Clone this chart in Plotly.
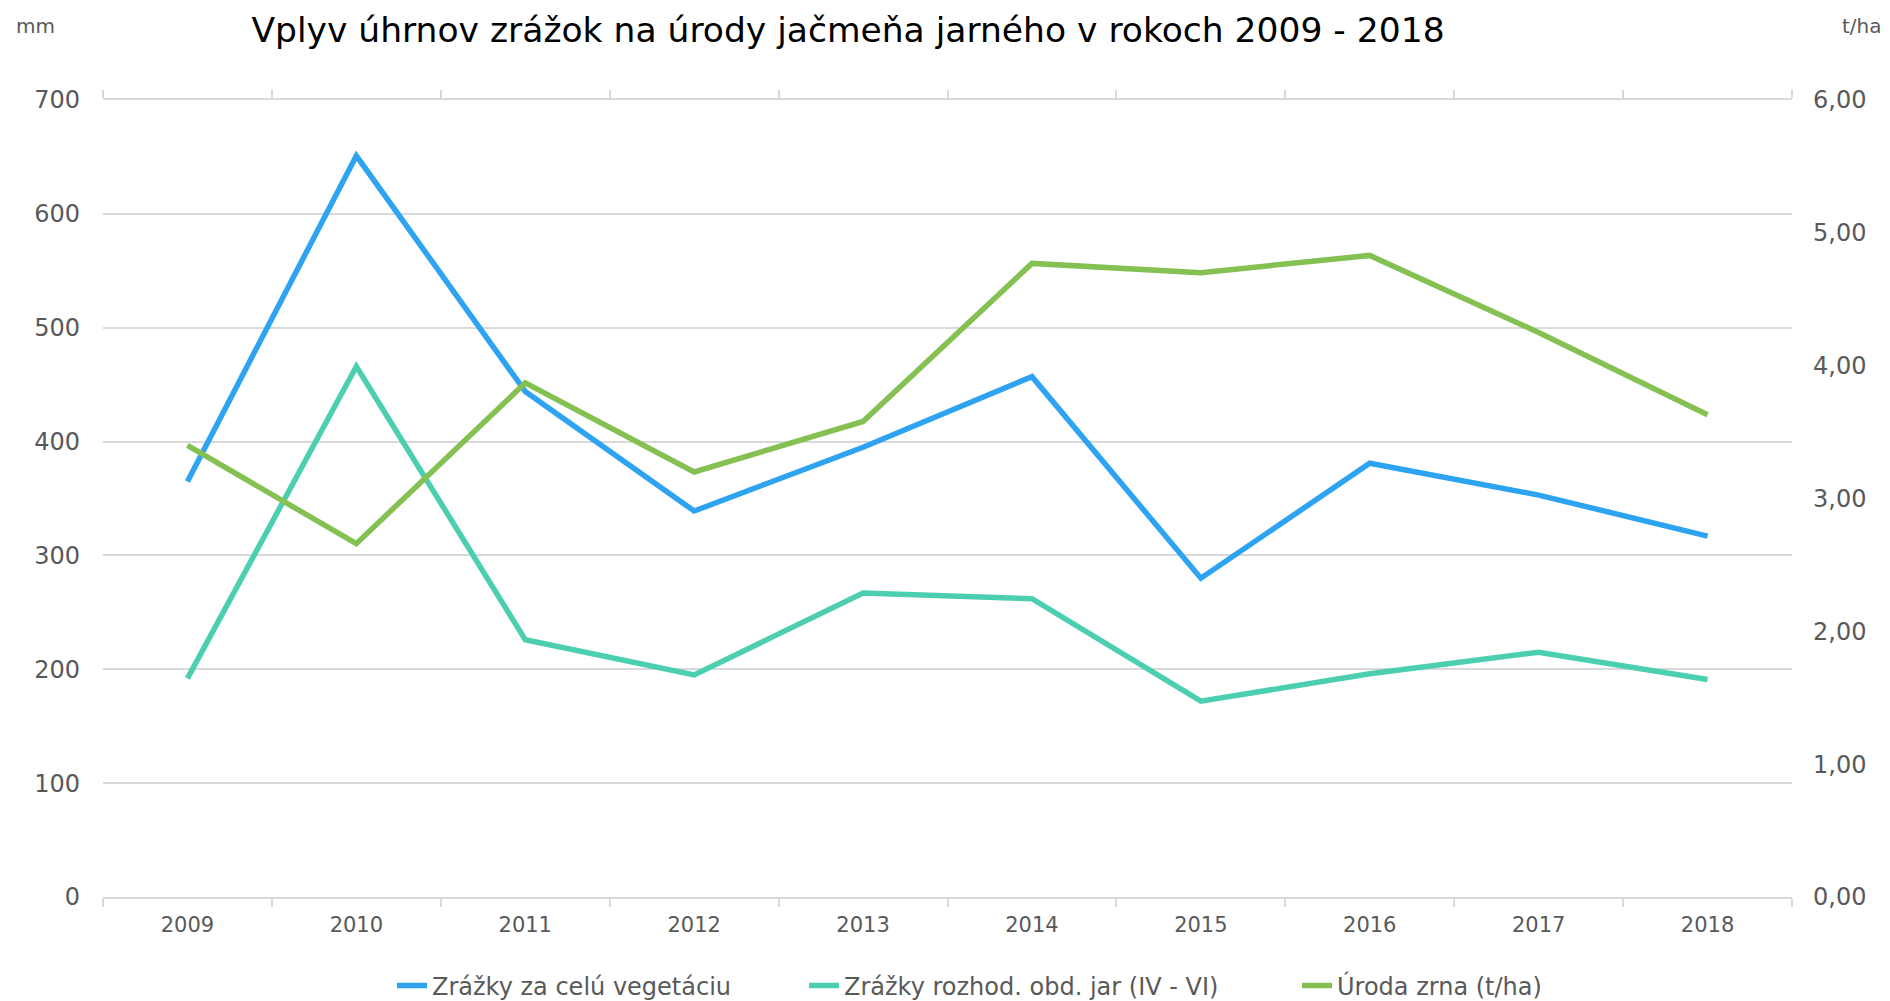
import plotly.graph_objects as go

years = ["2009", "2010", "2011", "2012", "2013", "2014", "2015", "2016", "2017", "2018"]
zrazky_vegetacia = [365, 651, 444, 339, 395, 457, 280, 381, 353, 317]
zrazky_jar = [192, 466, 226, 195, 267, 262, 172, 196, 215, 191]
uroda = [3.40, 2.66, 3.87, 3.20, 3.58, 4.77, 4.70, 4.83, 4.25, 3.63]

left_ticks = [0, 100, 200, 300, 400, 500, 600, 700]
right_ticks = [0, 1, 2, 3, 4, 5, 6]

FONT = "DejaVu Sans"
OFF = 8  # default body margin of the page
W, H = 1890 - OFF, 1001 - OFF
ML, MT = 103 - OFF, 100 - OFF
MR = W - (1792 - OFF)
MB = H - (897 - OFF)
PW = W - ML - MR
PH = H - MT - MB

fig = go.Figure()
fig.add_trace(go.Scatter(x=years, y=zrazky_vegetacia, name="Zrážky za celú vegetáciu",
                         mode="lines", line=dict(color="#2EA3F2", width=5.5), legend="legend"))
fig.add_trace(go.Scatter(x=years, y=zrazky_jar, name="Zrážky rozhod. obd. jar (IV - VI)",
                         mode="lines", line=dict(color="#4CCFB0", width=5.5), legend="legend2"))
fig.add_trace(go.Scatter(x=years, y=uroda, name="Úroda zrna (t/ha)", yaxis="y2",
                         mode="lines", line=dict(color="#84C052", width=5.5), legend="legend3"))

LEG_FONT = dict(family=FONT, size=24, color="#595959")
TXT_OFF = 41
def leg(text_x):
    return dict(orientation="h", xref="container", x=(text_x - OFF - TXT_OFF) / W, xanchor="left",
                yref="container", y=1 - (986 - OFF) / H, yanchor="middle", font=LEG_FONT,
                bgcolor="rgba(0,0,0,0)")

fig.update_layout(
    width=W, height=H,
    margin=dict(l=ML, r=MR, t=MT, b=MB, autoexpand=False),
    paper_bgcolor="white", plot_bgcolor="white",
    separators=", ",
    font=dict(family=FONT, color="#595959", size=22),
    title=dict(text="Vplyv úhrnov zrážok na úrody jačmeňa jarného v rokoch 2009 - 2018",
               x=(848 - OFF) / W, xanchor="center", y=1 - (30 - OFF) / H, yanchor="middle",
               font=dict(family=FONT, size=34.5, color="#000000")),
    xaxis=dict(type="category", showgrid=False, showline=True, linecolor="#d9d9d9", linewidth=2,
               ticks="outside", tickson="boundaries", ticklen=8, tickcolor="#d9d9d9", tickwidth=2,
               mirror="ticks", tickfont=dict(size=21, color="#595959"), range=[-0.5, 9.5],
               ticklabelstandoff=8, automargin=False),
    yaxis=dict(range=[0, 700], tickvals=left_ticks, showgrid=True, gridcolor="#d9d9d9", gridwidth=2,
               zeroline=False, showline=False, ticks="", tickfont=dict(size=24, color="#595959"),
               ticklabelstandoff=22, automargin=False),
    yaxis2=dict(range=[0, 6], tickvals=right_ticks, tickformat=".2f", overlaying="y", side="right",
                showgrid=False, zeroline=False, showline=False, ticks="",
                tickfont=dict(size=24, color="#595959"), ticklabelstandoff=20, automargin=False),
    legend=leg(433),
    legend2=leg(845),
    legend3=leg(1338),
    showlegend=True,
)

fig.add_annotation(text="mm", xref="paper", yref="paper", x=(14 - OFF - ML) / PW, xanchor="left",
                   y=1 + (MT - (26 - OFF)) / PH, yanchor="middle", showarrow=False,
                   font=dict(family=FONT, size=20, color="#595959"))
fig.add_annotation(text="t/ha", xref="paper", yref="paper", x=(1884 - OFF - ML) / PW, xanchor="right",
                   y=1 + (MT - (26 - OFF)) / PH, yanchor="middle", showarrow=False,
                   font=dict(family=FONT, size=20, color="#595959"))

fig.write_html("out.html")
